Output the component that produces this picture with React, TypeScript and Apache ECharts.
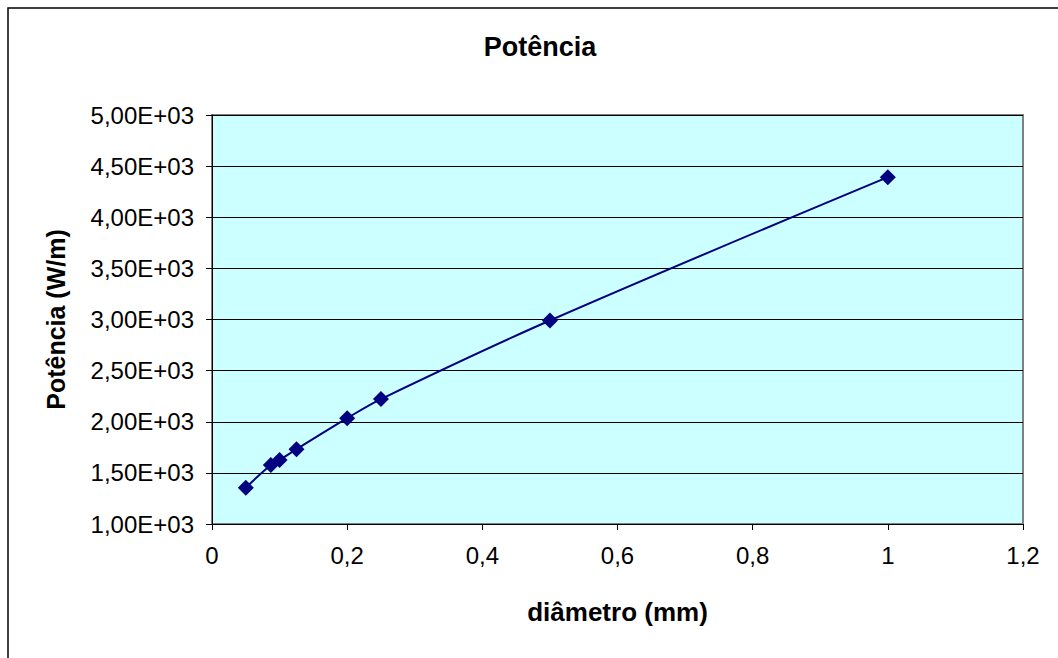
import React, { useEffect, useRef } from "react";
import * as echarts from "echarts";

// Diâmetro do fio (mm) e potência dissipada por metro (W/m)
const diametros = [0.05, 0.087, 0.1, 0.125, 0.2, 0.25, 0.5, 1.0];
const potencias = [1355, 1577, 1626, 1731, 2035, 2222, 2990, 4392];

const titulo = "Potência";
const nomeEixoX = "diâmetro (mm)";
const nomeEixoY = "Potência (W/m)";

const FONT = "Liberation Sans";

const formatY = (v: number) => (v / 1000).toFixed(2).replace(".", ",") + "E+03";
const formatX = (v: number) => String(Number(v.toFixed(1))).replace(".", ",");

export default function App() {
  const ref = useRef<HTMLDivElement>(null);

  useEffect(() => {
    if (!ref.current) return;
    const chart = echarts.init(ref.current, undefined, { renderer: "svg" });
    chart.setOption({
      animation: false,
      backgroundColor: "#ffffff",
      title: {
        text: titulo,
        left: 535,
        top: 28,
        textAlign: "center",
        textStyle: { fontFamily: FONT, fontSize: 27, fontWeight: "bold", color: "#000" },
      },
      graphic: [
        {
          type: "polyline",
          shape: { points: [[8, 700], [8, 8], [1100, 8]] },
          style: { stroke: "#000", lineWidth: 1.5, fill: "none" },
          silent: true,
        },
      ],
      grid: {
        left: 212,
        top: 115,
        right: 35,
        bottom: 134,
        show: true,
        backgroundColor: "#CCFFFF",
        borderColor: "#808080",
        borderWidth: 2,
      },
      xAxis: {
        type: "value",
        min: 0,
        max: 1.2,
        interval: 0.2,
        name: nomeEixoX,
        nameLocation: "middle",
        nameGap: 75,
        nameTextStyle: { fontFamily: FONT, fontSize: 26, fontWeight: "bold", color: "#000" },
        axisLine: { show: true, lineStyle: { color: "#000", width: 1 } },
        axisTick: { show: true, inside: false, length: 6, lineStyle: { color: "#000" } },
        axisLabel: {
          formatter: formatX,
          margin: 19,
          fontFamily: FONT,
          fontSize: 24,
          color: "#000",
        },
        splitLine: { show: false },
      },
      yAxis: {
        type: "value",
        min: 1000,
        max: 5000,
        interval: 500,
        name: nomeEixoY,
        nameLocation: "middle",
        nameGap: 144,
        nameRotate: 90,
        nameTextStyle: { fontFamily: FONT, fontSize: 25, fontWeight: "bold", color: "#000" },
        axisLine: { show: true, lineStyle: { color: "#000", width: 1 } },
        axisTick: { show: true, inside: false, length: 6, lineStyle: { color: "#000" } },
        axisLabel: {
          formatter: formatY,
          margin: 18,
          fontFamily: FONT,
          fontSize: 24,
          color: "#000",
        },
        splitLine: { show: true, lineStyle: { color: "#000", width: 1 } },
      },
      series: [
        {
          type: "line",
          data: diametros.map((d, i) => [d, potencias[i]]),
          smooth: 0.35,
          symbol: "diamond",
          symbolSize: 16,
          itemStyle: { color: "#000080" },
          lineStyle: { color: "#000080", width: 2 },
        },
      ],
    });
    return () => chart.dispose();
  }, []);

  return (
    <div
      ref={ref}
      style={{ position: "fixed", left: 0, top: 0, width: 1058, height: 658 }}
    />
  );
}
